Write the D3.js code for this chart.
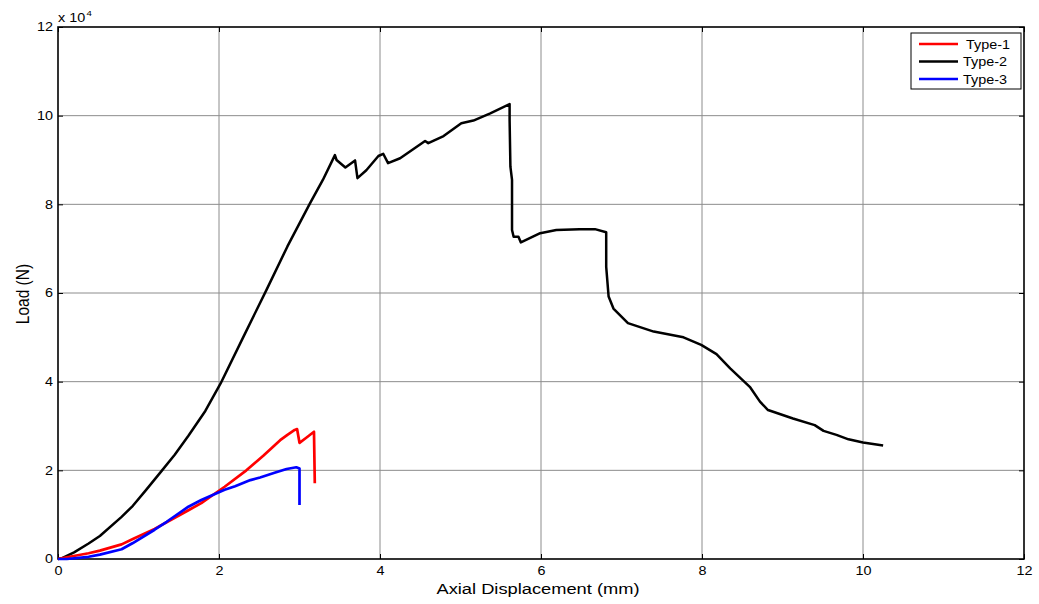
<!DOCTYPE html>
<html>
<head>
<meta charset="utf-8">
<script src="https://cdn.jsdelivr.net/npm/d3@7"></script>
<style>
  html, body { margin: 0; padding: 0; background: #fff; }
  svg { display: block; font-family: "Liberation Sans", Arial, sans-serif; }
</style>
</head>
<body>
<svg id="chart" width="1039" height="604"></svg>
<script>
// Load–displacement curves (displacement in mm, load in units of 10^4 N)
const type1X = [0, 0.11, 0.38, 0.52, 0.79, 0.93, 1.2, 1.4, 1.62, 1.78, 2.07, 2.34, 2.55, 2.76, 2.85, 2.94, 2.97, 3.0, 3.08, 3.18, 3.19];
const type1Y = [0, 0.04, 0.13, 0.19, 0.33, 0.45, 0.68, 0.88, 1.10, 1.26, 1.63, 2.0, 2.33, 2.68, 2.8, 2.91, 2.93, 2.62, 2.73, 2.87, 1.71];

const type2X = [0, 0.05, 0.2, 0.38, 0.52, 0.79, 0.93, 1.1, 1.28, 1.45, 1.62, 1.83, 2.02, 2.3, 2.59, 2.85, 3.13, 3.29, 3.44, 3.46, 3.57, 3.69, 3.72, 3.83, 3.98, 4.04, 4.10, 4.25, 4.56, 4.60, 4.79, 5.01, 5.16, 5.37, 5.61, 5.61, 5.62, 5.64, 5.64, 5.66, 5.72, 5.75, 5.99, 6.19, 6.48, 6.67, 6.81, 6.81, 6.84, 6.90, 7.08, 7.40, 7.77, 7.99, 8.18, 8.35, 8.60, 8.72, 8.82, 9.13, 9.40, 9.51, 9.67, 9.82, 10.0, 10.25];
const type2Y = [0, 0.02, 0.15, 0.35, 0.52, 0.95, 1.2, 1.57, 1.97, 2.35, 2.78, 3.34, 3.96, 5.0, 6.07, 7.05, 8.02, 8.55, 9.11, 9.0, 8.83, 8.99, 8.59, 8.77, 9.09, 9.14, 8.93, 9.04, 9.43, 9.38, 9.54, 9.83, 9.89, 10.05, 10.26, 9.9, 8.85, 8.55, 7.42, 7.27, 7.27, 7.14, 7.35, 7.42, 7.44, 7.44, 7.37, 6.59, 5.92, 5.65, 5.32, 5.13, 5.0, 4.83, 4.62, 4.30, 3.87, 3.55, 3.36, 3.17, 3.02, 2.89, 2.80, 2.70, 2.63, 2.56];

const type3X = [0, 0.11, 0.38, 0.52, 0.79, 0.93, 1.2, 1.35, 1.62, 1.78, 2.07, 2.2, 2.39, 2.51, 2.7, 2.84, 2.96, 3.0, 3.0];
const type3Y = [0, 0.0, 0.05, 0.1, 0.22, 0.36, 0.66, 0.84, 1.18, 1.33, 1.56, 1.64, 1.78, 1.84, 1.95, 2.03, 2.07, 2.04, 1.22];

const seriesNames = ["Type-1", "Type-2", "Type-3"];
const seriesColors = ["#ff0000", "#000000", "#0000ff"];

const xTicks = [0, 2, 4, 6, 8, 10, 12];
const yTicks = [0, 2, 4, 6, 8, 10, 12];

const svg = d3.select("#chart");
const plotLeft = 58, plotRight = 1024, plotTop = 27, plotBottom = 559;
const stretch = 1.2; // text is drawn slightly widened

const x = d3.scaleLinear().domain([0, 12]).range([plotLeft, plotRight]);
const y = d3.scaleLinear().domain([0, 12]).range([plotBottom, plotTop]);

// grid lines
const grid = svg.append("g");
grid.selectAll(".vg").data(xTicks.slice(1, -1)).join("line")
  .attr("x1", d => x(d)).attr("x2", d => x(d))
  .attr("y1", plotTop).attr("y2", plotBottom)
  .attr("stroke", "#8c8c8c").attr("stroke-width", 1);
grid.selectAll(".hg").data(yTicks.slice(1, -1)).join("line")
  .attr("y1", d => y(d)).attr("y2", d => y(d))
  .attr("x1", plotLeft).attr("x2", plotRight)
  .attr("stroke", "#8c8c8c").attr("stroke-width", 1);

// axes with inward ticks
const tickStyle = g => {
  g.select(".domain").remove();
  g.selectAll(".tick line").attr("stroke", "#000");
  g.selectAll(".tick text").attr("fill", "#000").style("font-size", "12px")
    .style("font-family", "'Liberation Sans', Arial, sans-serif");
};
const xAxisG = svg.append("g").attr("transform", `translate(0,${plotBottom})`)
  .call(d3.axisBottom(x).tickValues(xTicks).tickFormat(d3.format("d")).tickSizeInner(-5).tickPadding(6))
  .call(tickStyle);
xAxisG.selectAll(".tick text").attr("dy", null).attr("y", 16).attr("transform", `scale(${stretch},1)`);

svg.append("g").attr("transform", `translate(0,${plotTop})`)
  .call(d3.axisTop(x).tickValues(xTicks).tickSizeInner(-5).tickFormat(""))
  .call(tickStyle);

const yAxisG = svg.append("g").attr("transform", `translate(${plotLeft},0)`)
  .call(d3.axisLeft(y).tickValues(yTicks).tickFormat(d3.format("d")).tickSizeInner(-5).tickPadding(6))
  .call(tickStyle);
yAxisG.selectAll(".tick text").attr("x", -5 / stretch).attr("transform", `scale(${stretch},1)`);

svg.append("g").attr("transform", `translate(${plotRight},0)`)
  .call(d3.axisRight(y).tickValues(yTicks).tickSizeInner(-5).tickFormat(""))
  .call(tickStyle);

// frame
svg.append("rect").attr("x", plotLeft).attr("y", plotTop)
  .attr("width", plotRight - plotLeft).attr("height", plotBottom - plotTop)
  .attr("fill", "none").attr("stroke", "#000").attr("stroke-width", 1.6);

// curves
const line = d3.line().x(d => x(d[0])).y(d => y(d[1])).curve(d3.curveLinear);
const series = [
  d3.zip(type1X, type1Y),
  d3.zip(type2X, type2Y),
  d3.zip(type3X, type3Y)
];
// draw order: Type-2 first, then Type-1, then Type-3 on top
[1, 0, 2].forEach(i => {
  svg.append("path").datum(series[i])
    .attr("d", line)
    .attr("fill", "none")
    .attr("stroke", seriesColors[i])
    .attr("stroke-width", i === 1 ? 2.5 : 2.7)
    .attr("stroke-linejoin", "round");
});

// exponent label
const expo = svg.append("text").attr("transform", `translate(58,22) scale(${stretch},1)`)
  .style("font-size", "12px").attr("fill", "#000");
expo.append("tspan").text("x 10");
expo.append("tspan").attr("dy", -6).attr("dx", 1).style("font-size", "8px").text("4");

// axis titles
svg.append("text").attr("transform", `translate(538,594) scale(1.18,1)`)
  .attr("text-anchor", "middle").style("font-size", "15.5px").text("Axial Displacement (mm)");
svg.append("text").attr("transform", `translate(29,294) rotate(-90) scale(1,1.18)`)
  .attr("text-anchor", "middle").style("font-size", "15.5px").text("Load (N)");

// legend
const lg = svg.append("g");
lg.append("rect").attr("x", 911).attr("y", 33).attr("width", 110).attr("height", 56)
  .attr("fill", "#fff").attr("stroke", "#000").attr("stroke-width", 1);
seriesNames.forEach((name, i) => {
  const yy = 44 + i * 17.5;
  lg.append("line").attr("x1", 919).attr("x2", 958).attr("y1", yy).attr("y2", yy)
    .attr("stroke", seriesColors[i]).attr("stroke-width", 2.5);
  lg.append("text").attr("transform", `translate(${i === 0 ? 966 : 963},${yy + 4.5}) scale(${stretch},1)`)
    .style("font-size", "12px").text(name);
});
</script>
</body>
</html>
